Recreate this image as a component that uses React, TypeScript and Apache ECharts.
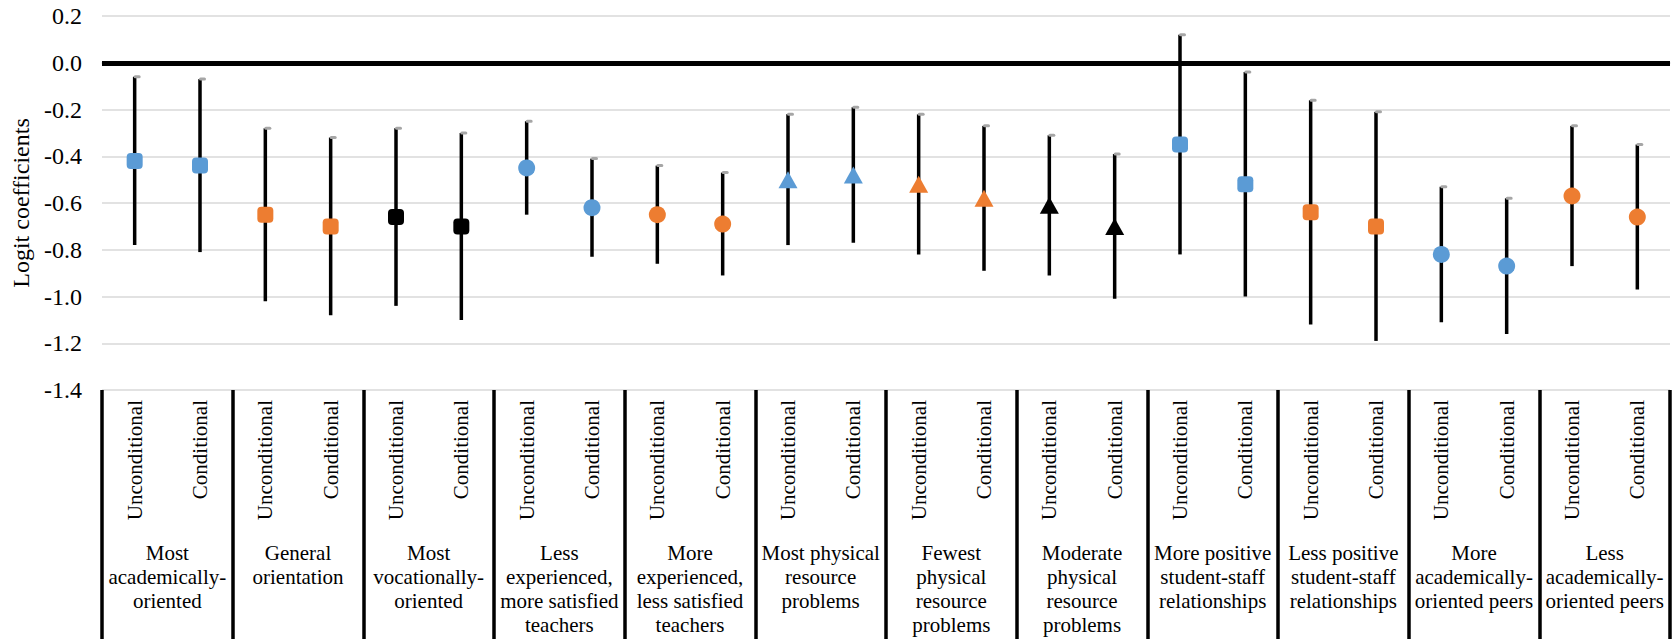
import React, { useEffect, useRef } from "react";
import * as echarts from "echarts";

// School-profile groups shown along the lower axis row
const groupLabels = [
  "Most\nacademically-\noriented",
  "General\norientation",
  "Most\nvocationally-\noriented",
  "Less\nexperienced,\nmore satisfied\nteachers",
  "More\nexperienced,\nless satisfied\nteachers",
  "Most physical\nresource\nproblems",
  "Fewest\nphysical\nresource\nproblems",
  "Moderate\nphysical\nresource\nproblems",
  "More positive\nstudent-staff\nrelationships",
  "Less positive\nstudent-staff\nrelationships",
  "More\nacademically-\noriented peers",
  "Less\nacademically-\noriented peers",
];

// Two model specifications within each group
const modelLabels = ["Unconditional", "Conditional"];

// Marker colour and shape per group
const groupColors = [
  "#5B9BD5", "#ED7D31", "#000000", "#5B9BD5", "#ED7D31", "#5B9BD5",
  "#ED7D31", "#000000", "#5B9BD5", "#ED7D31", "#5B9BD5", "#ED7D31",
];
const groupShapes = [
  "square", "square", "square", "circle", "circle", "triangle",
  "triangle", "triangle", "square", "square", "circle", "circle",
];

// Point estimates and confidence bounds, in category order
const coefficients = [
  -0.42, -0.44, -0.65, -0.70, -0.66, -0.70, -0.45, -0.62, -0.65, -0.69, -0.50, -0.48,
  -0.52, -0.58, -0.61, -0.70, -0.35, -0.52, -0.64, -0.70, -0.82, -0.87, -0.57, -0.66,
];
const lowerBounds = [
  -0.78, -0.81, -1.02, -1.08, -1.04, -1.10, -0.65, -0.83, -0.86, -0.91, -0.78, -0.77,
  -0.82, -0.89, -0.91, -1.01, -0.82, -1.00, -1.12, -1.19, -1.11, -1.16, -0.87, -0.97,
];
const upperBounds = [
  -0.06, -0.07, -0.28, -0.32, -0.28, -0.30, -0.25, -0.41, -0.44, -0.47, -0.22, -0.19,
  -0.22, -0.27, -0.31, -0.39, 0.12, -0.04, -0.16, -0.21, -0.53, -0.58, -0.27, -0.35,
];

// Value axis range
const yMin = -1.4;
const yMax = 0.2;
const yStep = 0.2;

const FONT = "Liberation Serif";

const categories: string[] = groupLabels.flatMap(() => modelLabels);

const symbolFor = (shape: string) => {
  if (shape === "square") return { symbol: "roundRect", symbolSize: 16 };
  if (shape === "circle") return { symbol: "circle", symbolSize: 17 };
  return { symbol: "triangle", symbolSize: [19, 17] };
};

export default function App() {
  const ref = useRef<HTMLDivElement>(null);

  useEffect(() => {
    if (!ref.current) return;
    const chart = echarts.init(ref.current, null, { renderer: "svg" });

    const pointData = coefficients.map((v, i) => {
      const g = Math.floor(i / modelLabels.length);
      return {
        value: [i, v],
        ...symbolFor(groupShapes[g]),
        itemStyle: { color: groupColors[g], opacity: 1 },
      };
    });

    const intervalData = categories.map((_, i) => [i, lowerBounds[i], upperBounds[i]]);

    chart.setOption({
      animation: false,
      backgroundColor: "#ffffff",
      textStyle: { fontFamily: FONT },
      grid: { left: 102, right: 3, top: 16, bottom: 249, containLabel: false },
      xAxis: [
        {
          type: "category",
          data: categories,
          position: "bottom",
          axisLine: { show: true, lineStyle: { color: "#D9D9D9", width: 1.5 } },
          axisTick: { show: false },
          splitLine: { show: false },
          axisLabel: {
            interval: 0,
            rotate: 90,
            margin: 10,
            fontSize: 21,
            fontFamily: FONT,
            color: "#000",
          },
        },
        {
          type: "category",
          data: groupLabels,
          position: "bottom",
          axisLine: { show: false },
          axisTick: {
            show: true,
            interval: 0,
            length: 260,
            lineStyle: { color: "#000", width: 3.5 },
          },
          splitLine: { show: false },
          axisLabel: {
            interval: 0,
            margin: 151,
            fontSize: 21,
            lineHeight: 24,
            fontFamily: FONT,
            color: "#000",
            hideOverlap: false,
          },
        },
      ],
      yAxis: [
        {
          type: "value",
          min: yMin,
          max: yMax,
          interval: yStep,
          name: "Logit coefficients",
          nameLocation: "middle",
          nameRotate: 90,
          nameGap: 67,
          nameTextStyle: { fontSize: 24, fontFamily: FONT, color: "#000" },
          axisLine: { show: false },
          axisTick: { show: false },
          axisLabel: {
            show: true,
            margin: 20,
            fontSize: 24,
            fontFamily: FONT,
            color: "#000",
            formatter: (v: number) => v.toFixed(1),
          },
          splitLine: { lineStyle: { color: "#D9D9D9", width: 1.5 } },
        },
      ],
      series: [
        {
          type: "custom",
          xAxisIndex: 0,
          encode: { x: 0, y: [1, 2] },
          data: intervalData,
          z: 3,
          renderItem: (_params: any, api: any) => {
            const idx = api.value(0);
            const top = api.coord([idx, api.value(2)]);
            const bottom = api.coord([idx, api.value(1)]);
            return {
              type: "group",
              children: [
                {
                  type: "line",
                  shape: { x1: top[0], y1: top[1], x2: bottom[0], y2: bottom[1] },
                  style: { stroke: "#000", lineWidth: 3.5 },
                },
                {
                  type: "rect",
                  shape: { x: top[0] - 1, y: top[1] - 1.5, width: 7, height: 3, r: 1.5 },
                  style: { fill: "#A6A6A6" },
                },
              ],
            };
          },
        },
        {
          type: "scatter",
          xAxisIndex: 0,
          data: pointData,
          z: 4,
          markLine: {
            silent: true,
            symbol: ["none", "none"],
            label: { show: false },
            lineStyle: { color: "#000", width: 5, type: "solid" },
            data: [{ yAxis: 0 }],
            z: 2,
          },
        },
      ],
    });

    return () => chart.dispose();
  }, []);

  return (
    <div
      ref={ref}
      style={{ position: "absolute", left: 0, top: 0, width: 1673, height: 639, background: "#fff" }}
    />
  );
}
